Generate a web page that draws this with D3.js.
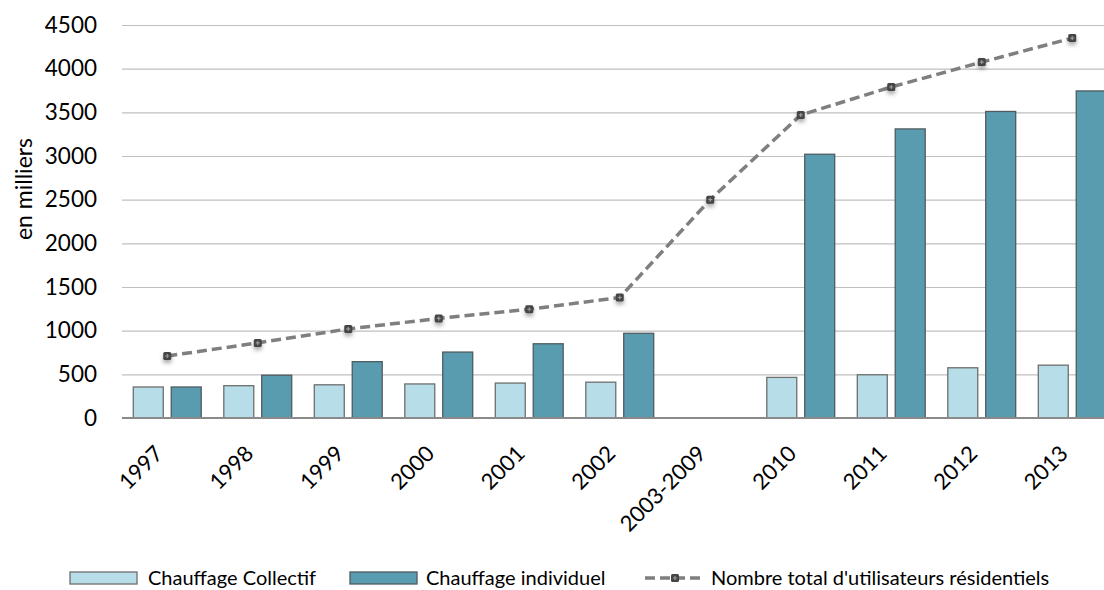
<!DOCTYPE html>
<html lang="fr">
<head>
<meta charset="utf-8">
<title>Utilisateurs résidentiels</title>
<script src="https://cdn.jsdelivr.net/npm/d3@7/dist/d3.min.js"></script>
<style>
  body { margin: 0; background: #fff; }
  svg { display: block; font-family: Lato, "Open Sans", sans-serif; }
</style>
</head>
<body>
<svg width="1104" height="590"></svg>
<script>
// données (en milliers)
var categories = ["1997", "1998", "1999", "2000", "2001", "2002", "2003-2009", "2010", "2011", "2012", "2013"];
var collectif  = [355, 370, 380, 390, 400, 410, null, 465, 495, 575, 605];
var individuel = [355, 490, 645, 755, 850, 970, null, 3020, 3310, 3510, 3745];
var total      = [710, 860, 1020, 1140, 1245, 1380, 2500, 3470, 3790, 4075, 4350];
var yTicks     = [0, 500, 1000, 1500, 2000, 2500, 3000, 3500, 4000, 4500];
var seriesNames = ["Chauffage Collectif", "Chauffage individuel", "Nombre total d'utilisateurs résidentiels"];

var svg = d3.select("svg");

var x0 = d3.scaleBand().domain(categories).range([122, 1117.5]).padding(0);
var x1 = d3.scaleBand().domain(["c", "i"])
    .range([11.3, x0.bandwidth() - 11.3])
    .paddingInner(0.21);
var y = d3.scaleLinear().domain([0, 4500]).range([418, 25]);

var colors = { c: "#b7dde8", i: "#5a9caf" };
var strokes = { c: "#6e6e6e", i: "#4f5b60" };

// ombre sous les marqueurs
var defs = svg.append("defs");
defs.append("filter").attr("id", "ombre")
    .attr("x", "-100%").attr("y", "-100%").attr("width", "300%").attr("height", "300%")
  .append("feDropShadow")
    .attr("dx", 0).attr("dy", 3).attr("stdDeviation", 2)
    .attr("flood-color", "#000").attr("flood-opacity", 0.35);

// grille
svg.append("g")
    .selectAll("line")
    .data(yTicks.filter(function(d) { return d > 0; }))
    .enter().append("line")
    .attr("x1", 122).attr("x2", 1104)
    .attr("y1", function(d) { return y(d) + 0.5; })
    .attr("y2", function(d) { return y(d) + 0.5; })
    .attr("stroke", "#bfbfbf").attr("stroke-width", 1.2);

// axe Y
var gy = svg.append("g")
    .attr("transform", "translate(122,0)")
    .call(d3.axisLeft(y).tickValues(yTicks).tickFormat(d3.format("d")).tickSize(0).tickPadding(25));
gy.select(".domain").remove();
gy.selectAll("text")
    .attr("font-family", "Lato, 'Open Sans', sans-serif")
    .attr("font-size", 22.5).attr("fill", "#000");

svg.append("text")
    .attr("transform", "translate(32,189) rotate(-90)")
    .attr("text-anchor", "middle")
    .attr("font-size", 23)
    .text("en milliers");

// barres
var rows = categories.map(function(c, i) {
    return { cat: c, vals: [{ key: "c", value: collectif[i] }, { key: "i", value: individuel[i] }] };
});
svg.append("g")
    .selectAll("g")
    .data(rows)
    .enter().append("g")
    .attr("transform", function(d) { return "translate(" + x0(d.cat) + ",0)"; })
    .selectAll("rect")
    .data(function(d) { return d.vals.filter(function(v) { return v.value != null; }); })
    .enter().append("rect")
    .attr("x", function(d) { return x1(d.key); })
    .attr("y", function(d) { return y(d.value); })
    .attr("width", x1.bandwidth())
    .attr("height", function(d) { return y(0) - y(d.value); })
    .attr("fill", function(d) { return colors[d.key]; })
    .attr("stroke", function(d) { return strokes[d.key]; })
    .attr("stroke-width", 1.3);

// axe X
var gx = svg.append("g")
    .attr("transform", "translate(0," + y(0) + ")")
    .call(d3.axisBottom(x0).tickSize(0));
gx.select(".domain").attr("stroke", "#8a8a8a").attr("stroke-width", 2)
    .attr("d", "M122,0H1104");
gx.selectAll("text")
    .attr("font-family", "Lato, 'Open Sans', sans-serif")
    .attr("font-size", 22).attr("fill", "#000")
    .attr("x", 0).attr("y", 0).attr("dy", 0)
    .attr("text-anchor", "end")
    .attr("transform", "translate(-3,37) rotate(-45)");

// courbe du total
var cx = function(i) { return x0(categories[i]) + x0.bandwidth() / 2; };
var line = d3.line()
    .x(function(d, i) { return cx(i); })
    .y(function(d) { return y(d); });
svg.append("path")
    .datum(total)
    .attr("d", line)
    .attr("fill", "none")
    .attr("stroke", "#7f7f7f")
    .attr("stroke-width", 3.5)
    .attr("stroke-dasharray", "10,5");

function marqueur(g) {
    g.append("rect")
        .attr("x", -4).attr("y", -4).attr("width", 8).attr("height", 8).attr("rx", 1.5)
        .attr("fill", "#454545");
    g.append("path")
        .attr("d", "M-2,0H2M0,-2V2")
        .attr("stroke", "#9a9a9a").attr("stroke-width", 1.2);
}

svg.append("g")
    .selectAll("g")
    .data(total)
    .enter().append("g")
    .attr("filter", "url(#ombre)")
    .attr("transform", function(d, i) { return "translate(" + cx(i) + "," + y(d) + ")"; })
    .each(function() { marqueur(d3.select(this)); });

// légende
var legY = 578;
var leg = svg.append("g").attr("font-size", 20);
leg.append("rect").attr("x", 70).attr("y", legY - 6).attr("width", 67).attr("height", 12)
    .attr("fill", colors.c).attr("stroke", strokes.c).attr("stroke-width", 1.3);
leg.append("text").attr("x", 148).attr("y", legY).attr("dy", "0.35em").text(seriesNames[0]);
leg.append("rect").attr("x", 350).attr("y", legY - 6).attr("width", 67).attr("height", 12)
    .attr("fill", colors.i).attr("stroke", strokes.i).attr("stroke-width", 1.3);
leg.append("text").attr("x", 426).attr("y", legY).attr("dy", "0.35em").text(seriesNames[1]);
leg.append("line").attr("x1", 645).attr("x2", 704).attr("y1", legY).attr("y2", legY)
    .attr("stroke", "#7f7f7f").attr("stroke-width", 3.5).attr("stroke-dasharray", "10,5");
var lm = leg.append("g").attr("transform", "translate(675," + legY + ")");
marqueur(lm);
leg.append("text").attr("x", 711).attr("y", legY).attr("dy", "0.35em").text(seriesNames[2]);
</script>
</body>
</html>
